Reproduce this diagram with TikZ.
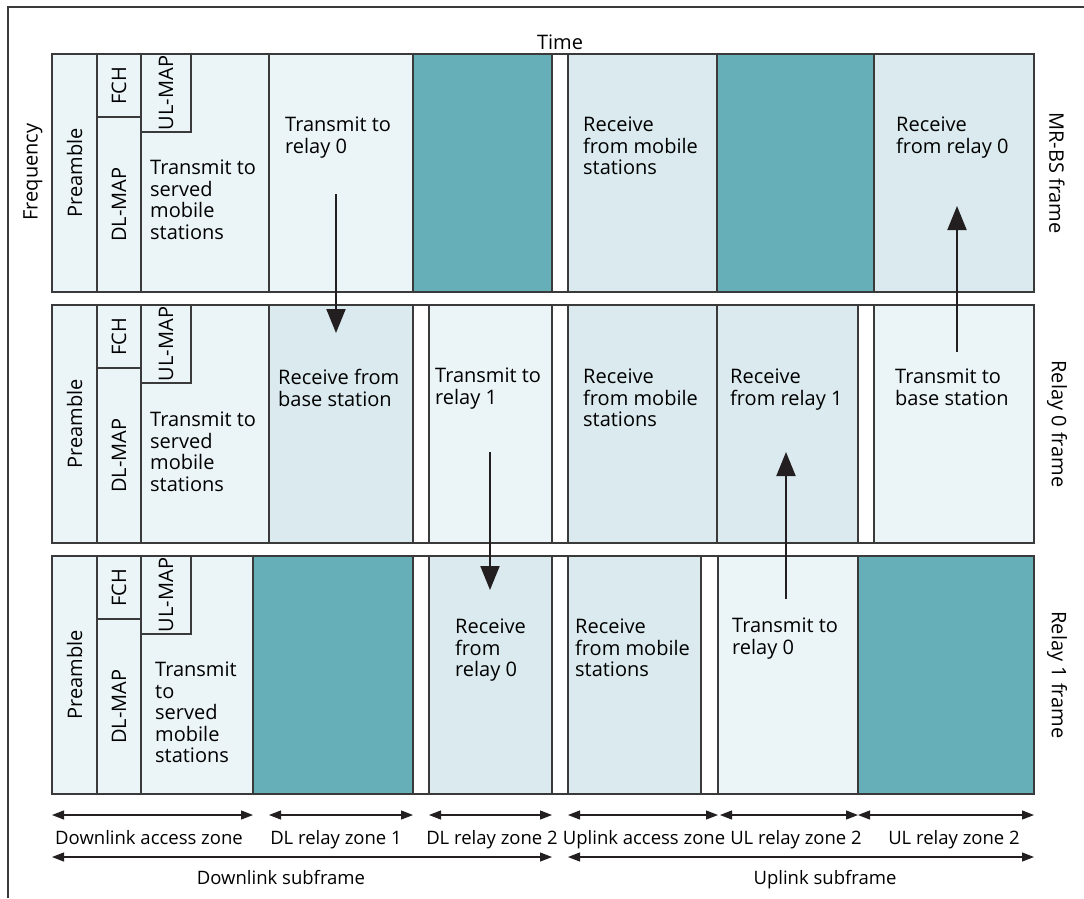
\documentclass[tikz,border=0pt]{standalone}
\usepackage{fontspec}
\setmainfont{Open Sans}
\usetikzlibrary{arrows.meta}

\definecolor{cellLight}{RGB}{235,244,247}
\definecolor{cellMid}{RGB}{218,234,238}
\definecolor{cellDark}{RGB}{102,174,184}
\definecolor{ruleGray}{RGB}{58,58,58}
\definecolor{ink}{RGB}{35,31,32}

% \zcell{name}{x}{y}{width}{height}{fill}
\newcommand\zcell[6]{%
  \node[cellbox, fill=#6, minimum width={#4pt}, minimum height={#5pt},
        anchor=north west] (#1) at (#2,#3) {};}

% left-hand control part of one frame: row id, top y, width of the served column
\newcommand\ctrlpart[3]{%
  \zcell{pre#1}{52}{#2}{45}{238}{cellLight}
  \zcell{fch#1}{97}{#2}{44}{63}{cellLight}
  \zcell{dlmap#1}{97}{#2+63}{44}{175}{cellLight}
  \zcell{served#1}{141}{#2}{#3}{238}{cellLight}
  \zcell{ulmap#1}{141}{#2}{50}{78}{cellLight}
  \node[vlabel] at (pre#1) {Preamble};
  \node[vlabel] at (fch#1) {FCH};
  \node[vlabel] at (dlmap#1) {DL-MAP};
  \node[vlabel] at (ulmap#1) {UL-MAP};}

\tikzset{
  cellbox/.style={rectangle, draw=ruleGray, line width=1.2pt, inner sep=0pt, outer sep=0pt},
  vlabel/.style={rotate=90, inner sep=0pt, font=\fontsize{20}{21.5}\selectfont},
  celltext/.style={anchor=north west, align=left, inner sep=0pt,
                   font=\fontsize{20}{21.5}\selectfont},
  sidelabel/.style={rotate=-90, inner sep=0pt, font=\fontsize{20}{21.5}\selectfont},
  flow/.style={draw=ink, line width=2pt, -{Triangle[length=24pt,width=19pt]}},
  span/.style={draw=ink, line width=1.1pt,
               {Triangle[length=12pt,width=9pt]}-{Triangle[length=12pt,width=9pt]}},
  spantext/.style={anchor=base, inner sep=0pt, font=\fontsize{18.5}{20}\selectfont},
}

\begin{document}
\begin{tikzpicture}[x=1pt, y=-1pt]
\useasboundingbox (0,0) rectangle (1084,898);
\fill[white] (0,0) rectangle (1084,898);

% outer rule
\draw[ruleGray, line width=1.1pt] (8,898) -- (8,7) -- (1084,7);

% axis labels
\node[font=\fontsize{20}{21.5}\selectfont, inner sep=0pt] (time) at (560,42) {Time};
\node[vlabel] (freq) at (33,172) {Frequency};

% ---------- MR-BS frame ----------
\ctrlpart{A}{54}{128}
\zcell{txrA}{269}{54}{144}{238}{cellLight}
\zcell{dkA1}{413}{54}{139}{238}{cellDark}
\zcell{gpA1}{552}{54}{16}{238}{white}
\zcell{rxmsA}{568}{54}{149}{238}{cellMid}
\zcell{dkA2}{717}{54}{157}{238}{cellDark}
\zcell{rxrA}{874}{54}{160}{238}{cellMid}

\node[celltext] at (150,160) {Transmit to\\served\\mobile\\stations};
\node[celltext] at (285,117) {Transmit to\\relay 0};
\node[celltext] at (583,117) {Receive\\from mobile\\stations};
\node[celltext] at (896,117) {Receive\\from relay 0};
\node[sidelabel] at (1057,173) {MR-BS frame};

% ---------- Relay 0 frame ----------
\ctrlpart{B}{305}{128}
\zcell{rxbsB}{269}{305}{144}{238}{cellMid}
\zcell{gpB1}{413}{305}{16}{238}{white}
\zcell{txrB}{429}{305}{123}{238}{cellLight}
\zcell{gpB2}{552}{305}{16}{238}{white}
\zcell{rxmsB}{568}{305}{149}{238}{cellMid}
\zcell{rxrB}{717}{305}{141}{238}{cellMid}
\zcell{gpB3}{858}{305}{16}{238}{white}
\zcell{txbsB}{874}{305}{160}{238}{cellLight}

\node[celltext] at (150,412) {Transmit to\\served\\mobile\\stations};
\node[celltext] at (278,369) {Receive from\\base station};
\node[celltext] at (435,368) {Transmit to\\relay 1};
\node[celltext] at (583,369) {Receive\\from mobile\\stations};
\node[celltext] at (730,369) {Receive\\from relay 1};
\node[celltext] at (895,369) {Transmit to\\base station};
\node[sidelabel] at (1057,424) {Relay 0 frame};

% ---------- Relay 1 frame ----------
\ctrlpart{C}{556}{112}
\zcell{dkC1}{253}{556}{160}{238}{cellDark}
\zcell{gpC1}{413}{556}{16}{238}{white}
\zcell{rxrC}{429}{556}{123}{238}{cellMid}
\zcell{gpC2}{552}{556}{16}{238}{white}
\zcell{rxmsC}{568}{556}{133}{238}{cellMid}
\zcell{gpC3}{701}{556}{17}{238}{white}
\zcell{txrC}{718}{556}{140}{238}{cellLight}
\zcell{dkC2}{858}{556}{176}{238}{cellDark}

\node[celltext] at (155,662) {Transmit\\to\\served\\mobile\\stations};
\node[celltext] at (455,619) {Receive\\from\\relay 0};
\node[celltext] at (575,619) {Receive\\from mobile\\stations};
\node[celltext] at (732,618) {Transmit to\\relay 0};
\node[sidelabel] at (1057,675) {Relay 1 frame};

% ---------- relay hops ----------
\coordinate (h1s) at (336,194);  \coordinate (h1e) at (336,333);
\coordinate (h2s) at (490,452);  \coordinate (h2e) at (490,590);
\coordinate (h3s) at (786,599);  \coordinate (h3e) at (786,452);
\coordinate (h4s) at (957,352);  \coordinate (h4e) at (957,206);
\draw[flow] (h1s) -- (h1e);
\draw[flow] (h2s) -- (h2e);
\draw[flow] (h3s) -- (h3e);
\draw[flow] (h4s) -- (h4e);

% ---------- zone spans ----------
\foreach \nm/\xa/\xb in {za/52/253, zb/269/413, zc/429/552, zd/568/718, ze/720/858, zf/858/1034}{
  \coordinate (\nm l) at (\xa,815); \coordinate (\nm r) at (\xb,815);
  \draw[span] (\nm l) -- (\nm r);
}
\node[spantext] at (149,844) {Downlink access zone};
\node[spantext] at (336,844) {DL relay zone 1};
\node[spantext] at (492,844) {DL relay zone 2};
\node[spantext] at (644,844) {Uplink access zone};
\node[spantext] at (796,844) {UL relay zone 2};
\node[spantext] at (954,844) {UL relay zone 2};

% ---------- subframe spans ----------
\coordinate (dsl) at (52,857);  \coordinate (dsr) at (552,857);
\coordinate (usl) at (568,857); \coordinate (usr) at (1034,857);
\draw[span] (dsl) -- (dsr);
\draw[span] (usl) -- (usr);
\node[spantext] at (281,884) {Downlink subframe};
\node[spantext] at (825,884) {Uplink subframe};
\end{tikzpicture}
\end{document}
